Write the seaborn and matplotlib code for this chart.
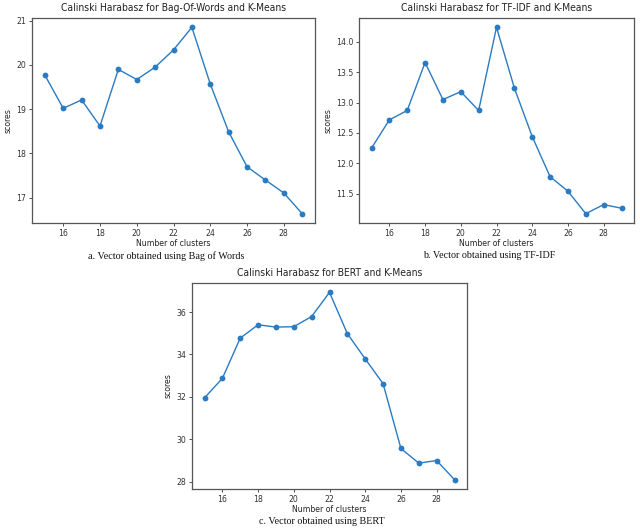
import matplotlib
matplotlib.use("Agg")
import matplotlib.pyplot as plt
import seaborn as sns
import pandas as pd

clusters = list(range(15, 30))
bow_scores = [19.77, 19.02, 19.21, 18.62, 19.90, 19.67, 19.95, 20.34, 20.85,
              19.57, 18.49, 17.70, 17.40, 17.11, 16.64]
tfidf_scores = [12.25, 12.715, 12.87, 13.66, 13.05, 13.18, 12.87, 14.24, 13.24,
                12.44, 11.78, 11.54, 11.17, 11.32, 11.26]
bert_scores = [31.95, 32.87, 34.77, 35.40, 35.29, 35.31, 35.79, 36.93, 34.98,
               33.79, 32.62, 29.56, 28.87, 28.99, 28.09]

titles = ["Calinski Harabasz for Bag-Of-Words and K-Means",
          "Calinski Harabasz for TF-IDF and K-Means",
          "Calinski Harabasz for BERT and K-Means"]
captions = ["a. Vector obtained using Bag of Words",
            "b. Vector obtained using TF-IDF",
            "c. Vector obtained using BERT"]
xlabel = "Number of clusters"
ylabel = "scores"

sns.set_style("white")
plt.rcParams['font.family'] = ['DejaVu Sans']
plt.rcParams['font.stretch'] = 'condensed'

W, H = 640, 531
fig = plt.figure(figsize=(6.4, 5.31), dpi=100)

def rect(l, r, t, b):
    return [l / W, 1 - b / H, (r - l) / W, (b - t) / H]

boxes = [rect(32, 315, 18, 223), rect(359, 634, 18, 223), rect(192, 467, 283, 489)]
yticks = [[17, 18, 19, 20, 21],
          [11.5, 12.0, 12.5, 13.0, 13.5, 14.0],
          [28, 30, 32, 34, 36]]
yfmt = ["{:.0f}", "{:.1f}", "{:.0f}"]
cap_y = [256, 256, 522]
series = [bow_scores, tfidf_scores, bert_scores]
color = "#2a7bc2"

for i, (box, vals) in enumerate(zip(boxes, series)):
    ax = fig.add_axes(box)
    df = pd.DataFrame({"k": clusters, "s": vals})
    sns.lineplot(data=df, x="k", y="s", ax=ax, color=color, marker="o",
                 markersize=4.2, markeredgewidth=0, linewidth=1.0)
    ax.set_xticks([16, 18, 20, 22, 24, 26, 28])
    ax.set_yticks(yticks[i])
    ax.set_yticklabels([yfmt[i].format(v) for v in yticks[i]])
    ax.tick_params(axis="both", labelsize=6.2, length=2.5, width=0.6,
                   colors="#333333", pad=1.8, direction="out", bottom=True, left=True)
    for sp in ax.spines.values():
        sp.set_color("#555555")
        sp.set_linewidth(0.9)
    ax.set_title(titles[i], fontsize=7.4, color="#222222", pad=5)
    ax.set_xlabel(xlabel, fontsize=6.2, color="#222222", labelpad=1)
    ax.set_ylabel(ylabel, fontsize=6.2, color="#222222", labelpad=2.5)
    pos = ax.get_position()
    fig.text(pos.x0 + pos.width / 2 - 0.012, 1 - cap_y[i] / H, captions[i],
             ha="center", va="center", fontsize=7.3, family="Liberation Serif",
             stretch="normal", color="#111111")

fig.savefig("out.png", dpi=100)
